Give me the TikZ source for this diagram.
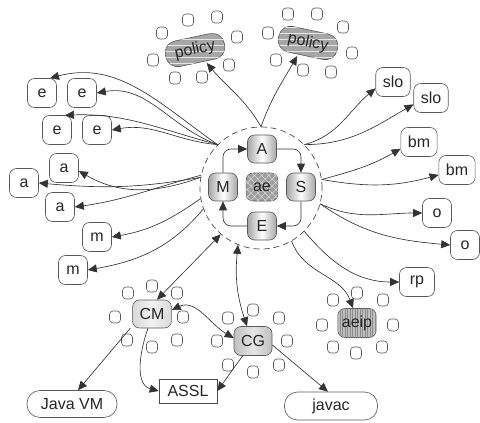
\documentclass[tikz,border=0pt]{standalone}
\usepackage{fontspec}
\setmainfont{Liberation Sans}
\usetikzlibrary{arrows.meta,patterns.meta,calc}
\begin{document}
\begin{tikzpicture}[x=1pt,y=1pt,
  every node/.style={font=\fontsize{16}{18}\selectfont, text=black!85},
  bx/.style={draw=black!65, line width=0.6pt, rounded corners=7pt, minimum width=29pt, minimum height=29pt, inner xsep=7pt, inner ysep=0pt, fill=white},
  core/.style={bx, left color=black!35, right color=black!35, middle color=white, minimum height=28pt},
  sq/.style={draw=black!65, line width=0.6pt, rounded corners=3.5pt, minimum width=11pt, minimum height=12pt, inner sep=0pt, fill=white},
  pill/.style={draw=black!65, line width=0.6pt, rounded corners=12pt, minimum height=26pt, inner xsep=7pt, fill=white},
  polstyle/.style={pill, minimum width=60pt, fill=black!35, postaction={pattern={Lines[angle=0,distance=6pt,line width=0.5pt]}, pattern color=white!90!black}},
  arr/.style={draw=black!80, line width=0.65pt, -{Triangle[length=9pt,width=8pt]}},
  darr/.style={draw=black!80, line width=0.65pt, {Triangle[length=9pt,width=8pt]}-{Triangle[length=9pt,width=8pt]}},
]
\useasboundingbox (0,0) rectangle (480,-423);
\fill[white] (0,0) rectangle (480,-423);

% ring and core
\node[circle, draw=black!70, dash pattern=on 6pt off 4pt, line width=0.7pt, minimum size=122pt, inner sep=0pt] (ring) at (261,-188) {};
\node[core] (A) at (262,-149) {A};
\node[core] (M) at (223,-187) {M};
\node[bx, minimum height=28pt, fill=black!38, postaction={pattern={Hatch[angle=45,distance=5pt,line width=0.5pt]}, pattern color=black!15}] (ae) at (262,-187) {ae};
\node[core] (S) at (301,-187) {S};
\node[core] (E) at (262,-226) {E};

% policies
\foreach \p in {(162,-33),(188,-20),(217,-17),(237,-37),(229,-65),(202,-77),(175,-78),(153,-60),
                (268,-33),(288,-14),(317,-14),(343,-27),(352,-53),(331,-72),(303,-70),(276,-60)}
  \node[sq] at \p {};
\node[polstyle, rotate=12] (p1) at (195,-50) {policy};
\node[polstyle, rotate=-12] (p2) at (308,-43) {policy};

% left nodes
\node[bx] (e1) at (42,-93) {e};
\node[bx] (e2) at (82,-93) {e};
\node[bx] (e3) at (57,-130) {e};
\node[bx] (e4) at (97,-130) {e};
\node[bx] (a1) at (64,-168) {a};
\node[bx] (a2) at (24,-183) {a};
\node[bx] (a3) at (60,-207) {a};
\node[bx] (m1) at (97,-237) {m};
\node[bx] (m2) at (73,-270) {m};

% right nodes
\node[bx] (slo1) at (393,-82) {slo};
\node[bx] (slo2) at (431,-98) {slo};
\node[bx] (bm1) at (419,-142) {bm};
\node[bx] (bm2) at (457,-170) {bm};
\node[bx] (o1) at (437,-213) {o};
\node[bx] (o2) at (465,-245) {o};
\node[bx, minimum width=35pt] (rp) at (417,-282) {rp};

% aeip
\foreach \p in {(333,-300),(357,-293),(383,-300),(322,-325),(393,-325),(333,-347),(356,-353),(382,-347)}
  \node[sq] at \p {};
\node[bx, inner xsep=4pt, fill=black!25, postaction={pattern={Lines[angle=90,distance=2.5pt,line width=0.4pt]}, pattern color=black!45}] (aeip) at (357,-323) {aeip};

% CM and CG
\foreach \p in {(128,-293),(152,-286),(177,-293),(115,-317),(183,-317),(127,-340),(152,-347),(177,-340),
                (228,-318),(253,-310),(279,-318),(217,-341),(287,-341),(228,-365),(253,-372),(279,-365)}
  \node[sq] at \p {};
\node[bx, minimum height=28pt, left color=black!15, right color=black!15, middle color=black!5] (CM) at (152,-314) {CM};
\node[bx, minimum height=29pt, left color=black!25, right color=black!25, middle color=black!10] (CG) at (253,-341) {CG};

% bottom
\node[pill, minimum width=90pt, minimum height=27pt, rounded corners=13pt] (jvm) at (72,-404) {Java VM};
\node[draw=black!70, line width=0.6pt, fill=white, minimum width=58pt, minimum height=24pt, inner sep=2pt] (assl) at (188,-391) {ASSL};
\node[pill, minimum width=93pt, minimum height=28pt, rounded corners=13pt] (javac) at (331,-406) {javac};

% inner loop
\draw[arr, rounded corners=8pt] (M.north) |- (A.west);
\draw[arr, rounded corners=8pt] (A.east) -| (S.north);
\draw[arr, rounded corners=8pt] (S.south) |- (E.east);
\draw[arr, rounded corners=8pt] (E.west) -| (M.south);

% top
\draw[arr] (ring.north) to[out=120,in=-50] ([xshift=9pt]p1.south);
\draw[arr] (ring.north) to[out=70,in=-120] ([xshift=-8pt]p2.south);

% left
\draw[arr] (ring.135) to[out=145,in=15] ([xshift=8pt]e1.north);
\draw[arr] (ring.135) to[out=160,in=10] (e2.east);
\draw[arr] (ring.135) to[out=165,in=2] ([xshift=8pt]e3.north);
\draw[arr] (ring.135) to[out=175,in=10] (e4.east);
\draw[arr] (ring.170) to[out=200,in=-30] ([yshift=-3pt]a1.east);
\draw[arr] (ring.170) to[out=190,in=-5] (a2.east);
\draw[arr] (ring.168) to[out=195,in=8] (a3.east);
\draw[arr] (ring.190) to[out=215,in=10] (m1.east);
\draw[arr] (ring.200) to[out=230,in=10] (m2.east);

% right
\draw[arr] (ring.45) to[out=15,in=220] (slo1.200);
\draw[arr] (ring.45) to[out=0,in=210] (slo2.200);
\draw[arr] (ring.8) to[out=15,in=210] (bm1.200);
\draw[arr] (ring.8) to[out=-10,in=195] (bm2.195);
\draw[arr] (ring.-15) to[out=-25,in=180] (o1.west);
\draw[arr] (ring.-15) to[out=-35,in=175] (o2.west);
\draw[arr] (ring.-45) to[out=-50,in=180] (rp.west);
\draw[arr] (ring.-60) to[out=-70,in=110] ([xshift=-4pt]aeip.north);

% CM / CG
\draw[darr] ([xshift=5pt]CM.north) -- (ring.229);
\draw[darr] (ring.248) to[bend right=12] ([xshift=-6pt]CG.north);
\draw[darr] ([yshift=4pt]CM.east) to[out=25,in=150] ([yshift=3pt]CG.west);
\draw[arr] ([xshift=-2pt]CM.south west) -- ([xshift=6pt]jvm.north);
\draw[arr] ([xshift=-4pt]CM.south) to[out=-110,in=165] (assl.west);
\draw[arr] ([xshift=9pt]CG.south west) -- (assl.east);
\draw[arr] ([yshift=-4pt]CG.east) -- ([xshift=-3pt]javac.north);
\end{tikzpicture}
\end{document}
